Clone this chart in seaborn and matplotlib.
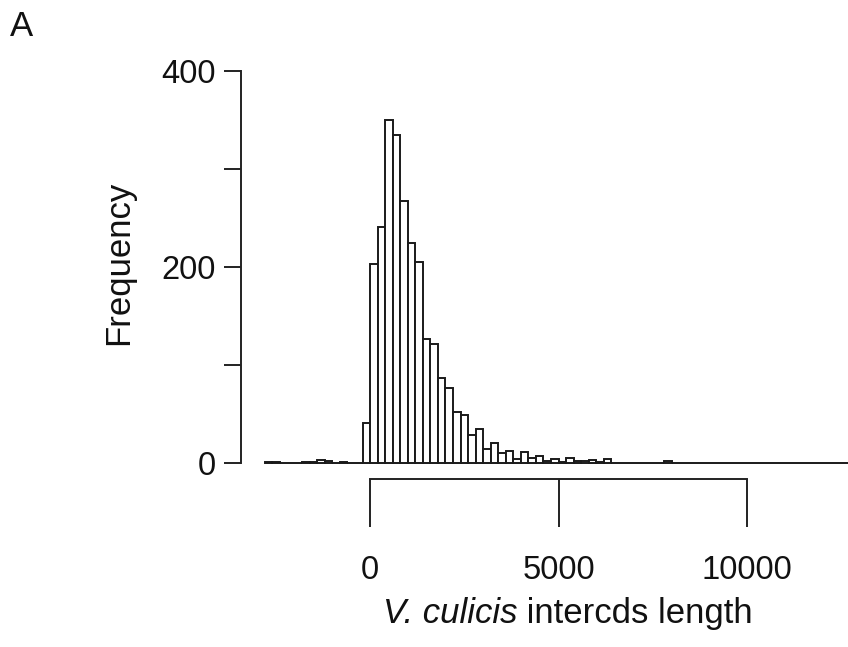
import numpy as np
import pandas as pd
import matplotlib
matplotlib.use("Agg")
import matplotlib.pyplot as plt
import seaborn as sns

# ---- data ----
bin_width = 200
first_edge = -2800
counts = [
    1, 1, 0, 0, 0, 1, 1, 3, 2, 0, 1, 0, 0,          # -2800 .. -400
    41, 203, 241, 350, 335, 267, 224, 205, 127, 122,  # -200 .. 1600
    87, 77, 52, 49, 29, 35, 15, 21, 11, 13,           # 1800 .. 3600
    4, 12, 5, 7, 2, 4, 1, 5, 2, 2, 3, 1, 4,           # 3800 .. 6200
    0, 0, 0, 0, 0, 0, 0, 2,                           # 6400 .. 7800
    0, 0, 0, 0, 0, 0, 0, 0, 0, 0,                     # 8000 .. 9800
    0, 0, 0, 0, 0, 0, 0, 0, 0, 0, 0, 0, 0, 0,         # 10000 .. 12600
]
x_ticks = [0, 5000, 10000]
y_ticks = [0, 100, 200, 300, 400]
y_ticklabels = ["0", "", "200", "", "400"]

edges = first_edge + bin_width * np.arange(len(counts) + 1)
centers = edges[:-1] + bin_width / 2
df = pd.DataFrame({"length": centers, "freq": counts})

sns.set_style("ticks")
plt.rcParams["font.family"] = ["Liberation Sans", "DejaVu Sans"]

W, H = 848, 647
fig = plt.figure(figsize=(W / 100, H / 100), dpi=100)
ax = fig.add_axes([241 / W, (H - 479) / H, (W - 241) / W, (479 - 55) / H])

sns.histplot(data=df, x="length", weights="freq", bins=[float(e) for e in edges],
             stat="count", color="white", edgecolor="#1a1a1a", linewidth=1.4,
             alpha=1, ax=ax)

ax.set_xlim(-3424, 12681)
ax.set_ylim(-16, 416)

for s in ["top", "right"]:
    ax.spines[s].set_visible(False)
ax.spines["left"].set_bounds(0, 400)
ax.spines["bottom"].set_bounds(0, 10000)
for s in ["left", "bottom"]:
    ax.spines[s].set_linewidth(1.4)
    ax.spines[s].set_color("#222222")

ax.set_yticks(y_ticks)
ax.set_yticklabels(y_ticklabels)
ax.set_xticks(x_ticks)
ax.set_xticklabels([str(t) for t in x_ticks])
fs_tick = 23.5
fs_lab = 25
ax.tick_params(axis="y", length=12, width=1.4, pad=6, labelsize=fs_tick,
               color="#222222", labelcolor="#111111")
ax.tick_params(axis="x", length=34.5, width=1.4, pad=20, labelsize=fs_tick,
               color="#222222", labelcolor="#111111")
ax.set_xlabel("")
ax.set_ylabel("")

# x label: italic species name + regular text, centred as a whole
fig.canvas.draw()
renderer = fig.canvas.get_renderer()
t1 = fig.text(0, (H - 623) / H, "V. culicis", style="italic", ha="left",
              va="baseline", fontsize=fs_lab, color="#111111")
t2 = fig.text(0, (H - 623) / H, " intercds length", ha="left",
              va="baseline", fontsize=fs_lab, color="#111111")
w1 = t1.get_window_extent(renderer).width
w2 = t2.get_window_extent(renderer).width
x0 = 568 - (w1 + w2) / 2
t1.set_x(x0 / W)
t2.set_x((x0 + w1) / W)

fig.text(119 / W, 1 - 263 / H, "Frequency", rotation=90, ha="center",
         va="center", fontsize=fs_lab, color="#111111")
fig.text(10 / W, 1 - 36 / H, "A", ha="left", va="baseline", fontsize=fs_lab,
         color="#111111")

fig.savefig("out.png", dpi=100)
